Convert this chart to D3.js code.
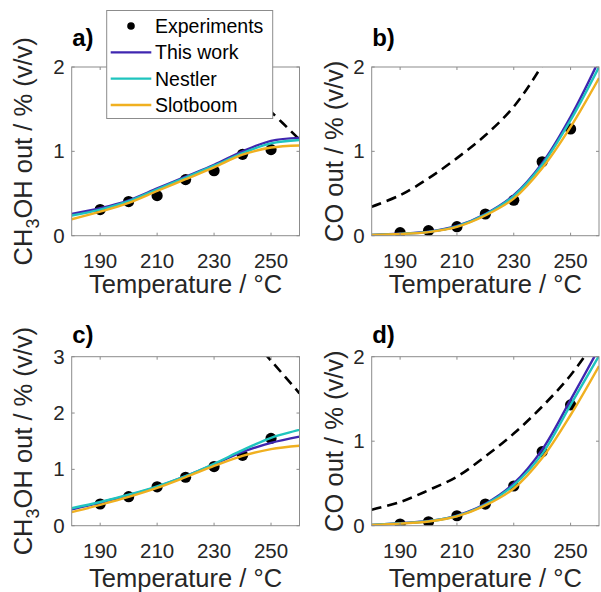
<!DOCTYPE html>
<html lang="en">
<head>
  <meta charset="UTF-8">
  <title>CH3OH and CO outlet</title>
  <script src="https://d3js.org/d3.v7.min.js"></script>
  <style>
    body {
      margin: 0;
      background-color: #ffffff;
      font-family: "Liberation Sans", Arial, sans-serif;
    }
    .tick-label { font-size: 20.5px; fill: #262626; }
    .axis-label { font-size: 25.5px; fill: #262626; }
    .panel-label { font-size: 24px; font-weight: bold; fill: #000; }
    .legend-text { font-size: 19.5px; fill: #000; }
  </style>
</head>
<body>
  <div id="chart"></div>
  <script>
    // model temperatures and experiment temperatures (°C)
    const temps = [180, 190, 200, 210, 220, 230, 240, 250, 260];
    const expTemps = [190, 200, 210, 220, 230, 240, 250];

    // a) CH3OH, condition 1
    const aExp = [0.31, 0.405, 0.475, 0.665, 0.77, 0.965, 1.02];
    const aThis = [0.257, 0.325, 0.42, 0.56, 0.70, 0.84, 1.0, 1.125, 1.16];
    const aNestler = [0.24, 0.31, 0.41, 0.55, 0.69, 0.83, 0.98, 1.095, 1.135];
    const aSlotboom = [0.195, 0.285, 0.39, 0.53, 0.67, 0.81, 0.96, 1.045, 1.07];
    const aEqT = [230, 240, 250, 260];
    const aEq = [2.2, 1.8, 1.47, 1.14];

    // b) CO, condition 1
    const bExp = [0.036, 0.06, 0.107, 0.257, 0.42, 0.877, 1.265];
    const bThis = [0.01, 0.024, 0.047, 0.115, 0.257, 0.48, 0.86, 1.41, 2.08];
    const bNestler = [0.01, 0.022, 0.045, 0.11, 0.25, 0.47, 0.84, 1.37, 2.0];
    const bSlotboom = [0.01, 0.02, 0.043, 0.105, 0.24, 0.44, 0.80, 1.29, 1.87];
    const bEqT = temps;
    const bEq = [0.344, 0.48, 0.68, 0.92, 1.19, 1.53, 2.02, 2.6, 3.3];

    // c) CH3OH, condition 2
    const cExp = [0.385, 0.515, 0.69, 0.86, 1.05, 1.25, 1.55];
    const cThis = [0.29, 0.41, 0.54, 0.69, 0.88, 1.09, 1.31, 1.47, 1.58];
    const cNestler = [0.31, 0.42, 0.55, 0.70, 0.88, 1.10, 1.34, 1.56, 1.70];
    const cSlotboom = [0.24, 0.37, 0.51, 0.67, 0.86, 1.06, 1.24, 1.36, 1.42];
    const cEqT = [240, 250, 260];
    const cEq = [3.5, 2.93, 2.35];

    // d) CO, condition 2
    const dExp = [0.02, 0.047, 0.118, 0.256, 0.47, 0.876, 1.43];
    const dThis = [0.01, 0.03, 0.055, 0.12, 0.26, 0.50, 0.90, 1.49, 2.1];
    const dNestler = [0.01, 0.028, 0.052, 0.115, 0.25, 0.48, 0.85, 1.43, 2.01];
    const dSlotboom = [0.01, 0.025, 0.05, 0.11, 0.24, 0.44, 0.80, 1.31, 1.89];
    const dEqT = temps;
    const dEq = [0.19, 0.28, 0.42, 0.58, 0.82, 1.09, 1.41, 1.78, 2.25];

    const xTicks = [190, 210, 230, 250];
    const seriesNames = ["Experiments", "This work", "Nestler", "Slotboom"];
    const colors = { "This work": "#3f26b0", "Nestler": "#1fc4be", "Slotboom": "#f0b020" };

    const width = 601, height = 592;
    const axisColor = "#8c8c8c";

    const svg = d3.select("#chart").append("svg")
      .attr("width", width)
      .attr("height", height);

    const panels = [
      { id: "a", label: "a)", left: 71.7, right: 299.5, top: 67, bottom: 235.7, yMax: 2, yTicks: [0, 1, 2],
        ylab: "CH3OH", ylabX: 31.7, labY: 46, tickY: 267.7, xlabY: 292.7,
        exp: aExp, curves: [aThis, aNestler, aSlotboom], eqT: aEqT, eq: aEq },
      { id: "b", label: "b)", left: 371.7, right: 599, top: 67, bottom: 235.7, yMax: 2, yTicks: [0, 1, 2],
        ylab: "CO", ylabX: 343, labY: 46, tickY: 267.7, xlabY: 292.7,
        exp: bExp, curves: [bThis, bNestler, bSlotboom], eqT: bEqT, eq: bEq },
      { id: "c", label: "c)", left: 71.7, right: 299.5, top: 356.7, bottom: 525.7, yMax: 3, yTicks: [0, 1, 2, 3],
        ylab: "CH3OH", ylabX: 31.7, labY: 343, tickY: 558, xlabY: 587.3,
        exp: cExp, curves: [cThis, cNestler, cSlotboom], eqT: cEqT, eq: cEq },
      { id: "d", label: "d)", left: 371.7, right: 599, top: 356.7, bottom: 525.7, yMax: 2, yTicks: [0, 1, 2],
        ylab: "CO", ylabX: 343, labY: 343, tickY: 558, xlabY: 587.3,
        exp: dExp, curves: [dThis, dNestler, dSlotboom], eqT: dEqT, eq: dEq }
    ];

    panels.forEach(p => {
      const x = d3.scaleLinear().domain([180, 260]).range([p.left, p.right]);
      const y = d3.scaleLinear().domain([0, p.yMax]).range([p.bottom, p.top]);
      const g = svg.append("g");

      g.append("clipPath").attr("id", "clip-" + p.id)
        .append("rect")
        .attr("x", p.left).attr("y", p.top)
        .attr("width", p.right - p.left).attr("height", p.bottom - p.top);

      const plot = g.append("g").attr("clip-path", `url(#clip-${p.id})`);

      // equilibrium (dashed)
      const eqLine = d3.line()
        .x((d, i) => x(p.eqT[i]))
        .y(d => y(d))
        .curve(d3.curveCatmullRom.alpha(0.5));
      plot.append("path")
        .attr("d", eqLine(p.eq))
        .attr("fill", "none")
        .attr("stroke", "#000")
        .attr("stroke-width", 2.6)
        .attr("stroke-dasharray", "10,6");

      // experiments
      plot.selectAll("circle.exp")
        .data(p.exp)
        .join("circle")
        .attr("class", "exp")
        .attr("cx", (d, i) => x(expTemps[i]))
        .attr("cy", d => y(d))
        .attr("r", 5.6)
        .attr("fill", "#000");

      // model curves
      const line = d3.line()
        .x((d, i) => x(temps[i]))
        .y(d => y(d))
        .curve(d3.curveCatmullRom.alpha(0.5));
      p.curves.forEach((c, k) => {
        plot.append("path")
          .attr("d", line(c))
          .attr("fill", "none")
          .attr("stroke", colors[seriesNames[k + 1]])
          .attr("stroke-width", 2.4);
      });

      // box
      g.append("rect")
        .attr("x", p.left).attr("y", p.top)
        .attr("width", p.right - p.left).attr("height", p.bottom - p.top)
        .attr("fill", "none")
        .attr("stroke", axisColor)
        .attr("stroke-width", 1);

      // ticks (inward, on all sides)
      const tl = 3;
      xTicks.forEach(t => {
        g.append("line").attr("x1", x(t)).attr("x2", x(t))
          .attr("y1", p.bottom).attr("y2", p.bottom - tl)
          .attr("stroke", axisColor);
        g.append("line").attr("x1", x(t)).attr("x2", x(t))
          .attr("y1", p.top).attr("y2", p.top + tl)
          .attr("stroke", axisColor);
        g.append("text").attr("class", "tick-label")
          .attr("x", x(t)).attr("y", p.tickY)
          .attr("text-anchor", "middle")
          .text(t);
      });
      p.yTicks.forEach(t => {
        g.append("line").attr("x1", p.left).attr("x2", p.left + tl)
          .attr("y1", y(t)).attr("y2", y(t))
          .attr("stroke", axisColor);
        g.append("line").attr("x1", p.right).attr("x2", p.right - tl)
          .attr("y1", y(t)).attr("y2", y(t))
          .attr("stroke", axisColor);
        g.append("text").attr("class", "tick-label")
          .attr("x", p.left - 7).attr("y", y(t) + 7)
          .attr("text-anchor", "end")
          .text(t);
      });

      // axis labels
      g.append("text").attr("class", "axis-label")
        .attr("x", (p.left + p.right) / 2).attr("y", p.xlabY)
        .attr("text-anchor", "middle")
        .text("Temperature / °C");

      const yl = g.append("text").attr("class", "axis-label")
        .attr("transform", `translate(${p.ylabX},${(p.top + p.bottom) / 2}) rotate(-90)`)
        .attr("text-anchor", "middle");
      if (p.ylab === "CH3OH") {
        yl.append("tspan").text("CH");
        yl.append("tspan").attr("dy", 7).style("font-size", "18px").text("3");
        yl.append("tspan").attr("dy", -7).text("OH out / % (v/v)");
      } else {
        yl.append("tspan").text("CO out / % (v/v)");
      }

      g.append("text").attr("class", "panel-label")
        .attr("x", p.left + 0.5).attr("y", p.labY)
        .text(p.label);
    });

    // legend (over panel a)
    const lg = svg.append("g");
    lg.append("rect")
      .attr("x", 106.7).attr("y", 10.5)
      .attr("width", 166).attr("height", 108)
      .attr("fill", "#fff")
      .attr("stroke", axisColor);
    const rowY = d3.scalePoint().domain(seriesNames).range([26, 105]);
    seriesNames.forEach(name => {
      const cy = rowY(name);
      if (name === "Experiments") {
        lg.append("circle").attr("cx", 131).attr("cy", cy).attr("r", 3.8).attr("fill", "#000");
      } else {
        lg.append("line")
          .attr("x1", 110.7).attr("x2", 151.3)
          .attr("y1", cy).attr("y2", cy)
          .attr("stroke", colors[name])
          .attr("stroke-width", 2.4);
      }
      lg.append("text").attr("class", "legend-text")
        .attr("x", 155).attr("y", cy + 7)
        .text(name);
    });
  </script>
</body>
</html>
